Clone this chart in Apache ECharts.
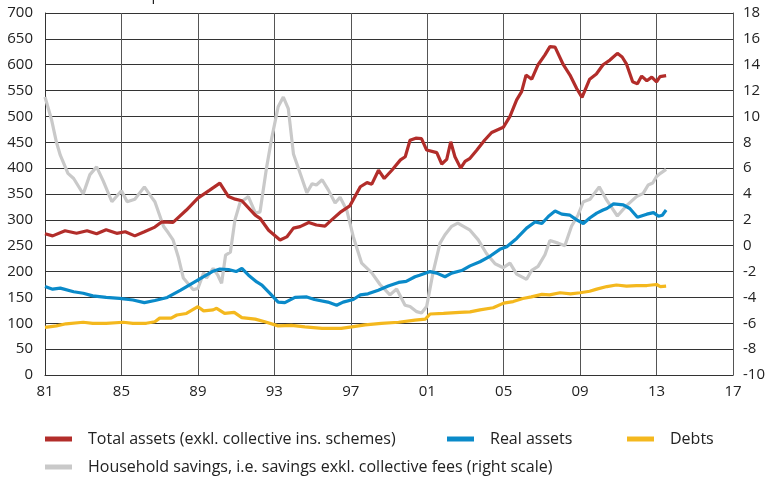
<!DOCTYPE html>
<html>
<head>
<meta charset="utf-8">
<script src="https://cdn.jsdelivr.net/npm/echarts@6/dist/echarts.min.js"></script>
<style>
  html, body { margin: 0; padding: 0; background: #fff; }
  #main { width: 769px; height: 480px; }
</style>
</head>
<body>
<div id="main"></div>
<script>
// [year, value]
var totalAssets = [
  [1981.0,273],[1981.4,269],[1982.05,279],[1982.65,274],[1983.2,279],[1983.7,273],[1984.2,281],[1984.75,274],
  [1985.2,277],[1985.7,269],[1986.2,277],[1986.75,286],[1987.1,296],[1987.7,295],[1988.4,319],[1989.0,342],
  [1989.6,357],[1990.15,371],[1990.6,345],[1990.95,340],[1991.3,337],[1992.0,309],[1992.25,303],[1992.7,280],
  [1993.3,261],[1993.65,267],[1994.0,284],[1994.35,287],[1994.8,295],[1995.2,290],[1995.65,288],[1996.0,300],
  [1996.5,316],[1996.95,327],[1997.5,364],[1997.85,372],[1998.1,369],[1998.45,396],[1998.75,380],[1999.15,396],
  [1999.6,416],[1999.85,422],[2000.1,454],[2000.4,458],[2000.7,457],[2000.97,435],[2001.5,430],[2001.76,408],
  [2002.02,417],[2002.23,451],[2002.45,422],[2002.75,400],[2002.98,413],[2003.24,419],[2003.6,435],[2004.0,454],
  [2004.37,469],[2004.98,479],[2005.33,500],[2005.68,532],[2005.94,548],[2006.17,580],[2006.47,572],[2006.8,600],
  [2007.16,619],[2007.42,635],[2007.69,634],[2008.12,600],[2008.47,580],[2008.82,554],[2009.1,537],[2009.5,572],
  [2009.85,582],[2010.2,600],[2010.56,609],[2010.95,622],[2011.2,615],[2011.43,601],[2011.75,567],[2012.0,563],
  [2012.22,578],[2012.49,569],[2012.75,576],[2013.0,567],[2013.18,577],[2013.5,579]
];
var realAssets = [
  [1981.0,171],[1981.4,166],[1981.8,168],[1982.5,161],[1983.0,158],[1983.5,153],[1984.2,150],[1984.9,148],
  [1985.6,145],[1986.2,140],[1986.75,144],[1987.4,150],[1988.1,164],[1988.7,177],[1989.3,190],[1989.75,200],
  [1990.15,205],[1990.6,204],[1991.0,200],[1991.3,206],[1991.65,193],[1992.08,180],[1992.35,174],[1992.77,158],
  [1993.2,141],[1993.55,140],[1994.08,150],[1994.7,151],[1995.1,146],[1995.8,141],[1996.26,135],[1996.6,141],
  [1997.13,146],[1997.5,155],[1997.9,157],[1998.44,164],[1998.96,172],[1999.5,179],[1999.9,181],[2000.36,190],
  [2000.6,193],[2001.15,200],[2001.5,197],[2001.93,190],[2002.28,197],[2002.8,202],[2003.24,211],[2003.76,219],
  [2004.3,230],[2004.8,243],[2005.16,248],[2005.68,264],[2006.2,284],[2006.64,296],[2007.0,293],[2007.35,307],
  [2007.69,317],[2008.04,311],[2008.47,309],[2008.82,300],[2009.17,293],[2009.52,304],[2009.87,313],[2010.2,319],
  [2010.4,322],[2010.75,331],[2011.26,329],[2011.6,322],[2012.0,305],[2012.49,311],[2012.84,314],[2013.1,307],
  [2013.3,309],[2013.5,319]
];
var debts = [
  [1981.0,92],[1981.6,95],[1982.1,99],[1983.0,102],[1983.5,100],[1984.2,100],[1985.1,102],[1985.6,100],
  [1986.3,100],[1986.75,103],[1987.0,110],[1987.6,110],[1987.9,116],[1988.4,119],[1989.0,132],[1989.3,124],
  [1989.8,126],[1989.98,129],[1990.4,119],[1990.9,121],[1991.3,111],[1992.0,108],[1992.5,103],[1993.2,95],
  [1993.9,96],[1994.6,93],[1995.5,90],[1996.5,90],[1997.05,93],[1997.75,97],[1998.6,100],[1999.5,102],
  [2000.36,106],[2000.9,108],[2001.15,118],[2001.85,119],[2002.7,121],[2003.24,122],[2003.76,126],[2004.45,130],
  [2005.0,139],[2005.5,142],[2006.0,148],[2006.45,151],[2007.0,156],[2007.4,155],[2007.95,159],[2008.5,157],
  [2009.0,159],[2009.5,162],[2009.87,166],[2010.4,171],[2010.9,174],[2011.43,172],[2011.95,173],[2012.5,173],
  [2013.0,175],[2013.2,171],[2013.5,172]
];
var savings = [
  [1981.0,11.5],[1981.35,9.7],[1981.6,8.0],[1981.8,7.0],[1982.2,5.6],[1982.5,5.2],[1983.0,4.0],[1983.35,5.5],
  [1983.7,6.1],[1984.05,5.0],[1984.5,3.4],[1985.0,4.25],[1985.3,3.4],[1985.7,3.6],[1986.2,4.55],[1986.6,3.7],
  [1986.75,3.4],[1987.2,1.5],[1987.45,1.0],[1987.7,0.45],[1987.97,-0.85],[1988.24,-2.5],[1988.76,-3.4],[1989.0,-3.3],
  [1989.3,-2.1],[1989.45,-2.5],[1989.8,-1.75],[1990.05,-2.3],[1990.24,-2.9],[1990.45,-0.72],[1990.7,-0.5],[1990.94,2.0],
  [1991.2,3.3],[1991.64,3.8],[1992.0,2.55],[1992.25,2.6],[1992.6,6.1],[1992.86,8.3],[1993.2,10.75],[1993.47,11.5],
  [1993.73,10.6],[1994.0,7.1],[1994.35,5.6],[1994.7,4.1],[1994.98,4.8],[1995.2,4.7],[1995.5,5.1],[1995.83,4.3],
  [1996.18,3.3],[1996.44,3.75],[1996.79,2.75],[1997.13,0.7],[1997.57,-1.35],[1998.1,-2.1],[1998.53,-3.0],[1999.05,-3.8],
  [1999.4,-3.35],[1999.84,-4.6],[2000.1,-4.7],[2000.45,-5.1],[2000.7,-5.2],[2000.97,-4.7],[2001.3,-2.1],[2001.67,0.2],
  [2001.93,0.85],[2002.28,1.5],[2002.6,1.75],[2003.24,1.2],[2003.67,0.45],[2004.1,-0.6],[2004.55,-1.4],[2004.98,-1.7],
  [2005.33,-1.35],[2005.68,-2.2],[2006.2,-2.6],[2006.47,-1.9],[2006.8,-1.6],[2007.16,-0.7],[2007.42,0.4],[2007.85,0.2],
  [2008.2,0.0],[2008.55,1.5],[2008.9,2.4],[2009.17,3.4],[2009.52,3.6],[2010.0,4.55],[2010.4,3.5],[2010.95,2.3],
  [2011.43,3.1],[2011.95,3.8],[2012.3,4.05],[2012.56,4.7],[2012.8,4.85],[2013.0,5.35],[2013.2,5.6],[2013.5,5.9]
];

var names = [
  'Total assets (exkl. collective ins. schemes)',
  'Real assets',
  'Debts',
  'Household savings, i.e. savings exkl. collective fees (right scale)'
];
var colors = ['#b22d2a', '#0a8ac9', '#f4b81e', '#c9c9c9'];

var font = 'Open Sans';
var myChart = echarts.init(document.getElementById('main'));

var legendOpt = function (i, left, top) {
  return {
    data: [names[i]],
    left: left,
    top: top,
    icon: 'rect',
    itemWidth: 27,
    itemHeight: 5,
    padding: 0,
    selectedMode: false,
    textStyle: { fontFamily: font, fontSize: 16, color: '#222', padding: [0, 0, 0, 11] }
  };
};

var lineSeries = function (i, data, axis) {
  return {
    name: names[i],
    type: 'line',
    yAxisIndex: axis,
    data: data,
    symbol: 'none',
    animation: false,
    color: colors[i],
    lineStyle: { width: 3.2, color: colors[i] }
  };
};

var option = {
  title: {
    text: 'Per cent of disposable income',
    left: 47,
    top: -17,
    textStyle: { fontFamily: font, fontSize: 15, fontWeight: 'normal', color: '#222' }
  },
  grid: { left: 45, right: 36, top: 13, bottom: 105 },
  legend: [
    legendOpt(0, 45, 431),
    legendOpt(1, 447, 431),
    legendOpt(2, 627, 431),
    legendOpt(3, 45, 459)
  ],
  xAxis: {
    type: 'value',
    min: 1981,
    max: 2017,
    interval: 4,
    axisLine: { show: true, lineStyle: { color: '#333', width: 1 } },
    axisTick: { show: false },
    axisLabel: {
      margin: 9,
      fontFamily: font, fontSize: 15, color: '#222',
      formatter: function (v) { return String(v).slice(2); }
    },
    splitLine: { show: true, lineStyle: { color: '#555', width: 1 } }
  },
  yAxis: [{
    type: 'value',
    min: 0,
    max: 700,
    interval: 50,
    axisLine: { show: true, lineStyle: { color: '#333', width: 1 } },
    axisTick: { show: false },
    axisLabel: { margin: 12, fontFamily: font, fontSize: 15, color: '#222' },
    splitLine: { show: true, lineStyle: { color: '#333', width: 1 } }
  }, {
    type: 'value',
    min: -10,
    max: 18,
    interval: 2,
    axisLine: { show: true, lineStyle: { color: '#555', width: 1 } },
    axisTick: { show: false },
    axisLabel: { margin: 10, fontFamily: font, fontSize: 15, color: '#222' },
    splitLine: { show: false }
  }],
  series: [
    lineSeries(3, savings, 1),
    lineSeries(0, totalAssets, 0),
    lineSeries(1, realAssets, 0),
    lineSeries(2, debts, 0)
  ]
};

myChart.setOption(option);
</script>
</body>
</html>
